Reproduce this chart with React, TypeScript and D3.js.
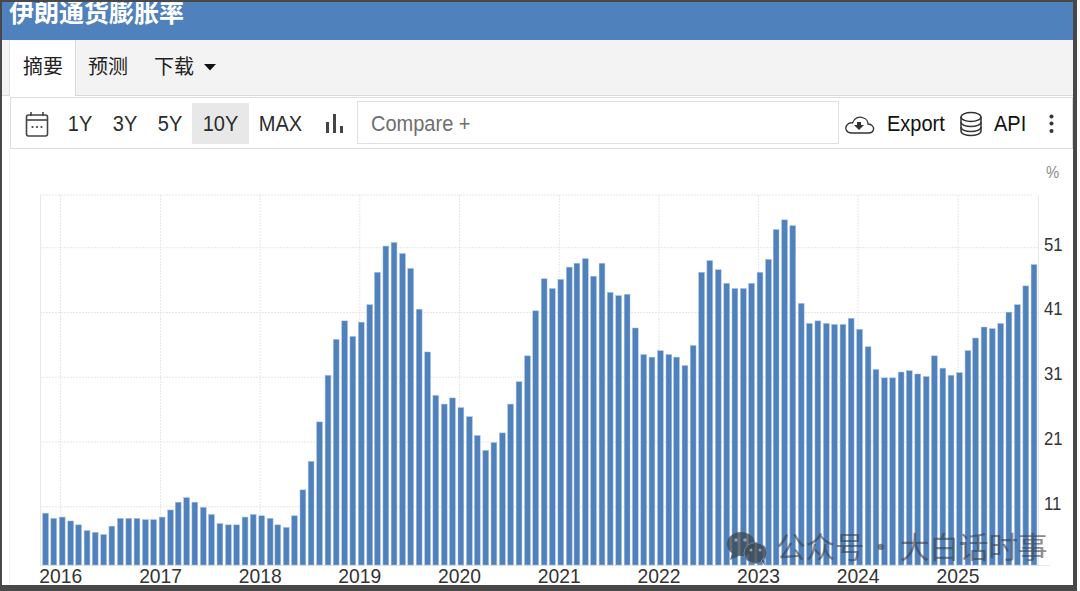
import React from "react";
import * as d3 from "d3";

const startYear = 2015;
const startMonth = 10; // Nov 2015
const inflation = [
  10.0, 9.2, 9.4, 8.8, 8.2, 7.3, 7.05, 6.7, 8.0, 9.2, 9.2, 9.2,
  9.0, 9.0, 9.4, 10.5, 11.7, 12.4, 11.7, 10.9, 9.8, 8.4, 8.2, 8.2,
  9.4, 9.8, 9.6, 9.2, 8.2, 7.8, 9.6, 13.6, 18.0, 24.1, 31.3, 36.85,
  39.7, 37.3, 39.5, 42.2, 47.2, 51.25, 51.8, 50.1, 47.8, 41.5, 34.9, 28.2,
  26.85, 27.8, 26.3, 24.9, 22.0, 19.7, 20.9, 22.4, 26.85, 30.3, 34.3, 41.25,
  46.2, 44.7, 46.1, 48.0, 48.6, 49.3, 46.6, 48.6, 44.1, 43.6, 43.8, 38.6,
  34.5, 34.1, 35.1, 34.5, 34.1, 32.8, 35.9, 47.2, 49.0, 47.6, 45.5, 44.7,
  44.7, 45.5, 47.2, 49.2, 53.8, 55.3, 54.4, 42.4, 39.3, 39.7, 39.3, 39.15,
  39.15, 40.1, 38.4, 35.7, 32.2, 30.9, 30.9, 31.8, 32.0, 31.5, 31.1, 34.3,
  32.4, 31.3, 31.7, 35.1, 37.05, 38.75, 38.5, 39.3, 41.05, 42.2, 45.1, 48.4,
];
const yearTicks = [2016, 2017, 2018, 2019, 2020, 2021, 2022, 2023, 2024, 2025];
const valueTicks = [11, 21, 31, 41, 51];
const rangeButtons = [
  { label: "1Y", cx: 80 },
  { label: "3Y", cx: 125 },
  { label: "5Y", cx: 170 },
  { label: "10Y", cx: 220.5 },
  { label: "MAX", cx: 280.5 },
];
const title = "伊朗通货膨胀率";
const watermarkA = "公众号";
const watermarkB = "大白话时事";

const BLUE = "#4f81bd";
const FRAME = "#484848";
const SANS = "'Liberation Sans', Arial, sans-serif";
const CJK = "'Noto Sans CJK SC', sans-serif";

const plot = { left: 40, right: 1038, top: 195, bottom: 565 };

// The reference is a screenshot stretched slightly taller than wide, so latin text is narrowed.
function T(props: any) {
  const { x, y, sx = 0.91, children, ...rest } = props;
  return (
    <text transform={`translate(${x},${y}) scale(${sx},1)`} {...rest}>
      {children}
    </text>
  );
}

export default function App() {
  const x = d3
    .scaleTime()
    .domain([new Date(2016, 0, 1), new Date(2025, 0, 1)])
    .range([60.7, 958]);
  const y = d3.scaleLinear().domain([2, 59.14]).range([plot.bottom, plot.top]);
  const bars = inflation.map((v, i) => ({
    date: new Date(startYear, startMonth + i, 1),
    v,
  }));
  const barW = 5.8;
  return (
    <svg
      width={1080}
      height={591}
      viewBox="0 0 1080 591"
      style={{ position: "absolute", left: 0, top: 0, background: "#fff" }}
    >
      {/* margin of the screenshot, right of the frame */}
      <rect x={1077} y={0} width={3} height={591} fill="#fcfcfc" />
      {/* header */}
      <rect x={0} y={0} width={1073} height={40} fill={BLUE} />
      <text x={9} y={22} fontFamily={CJK} fontWeight={700} fontSize={25} fill="#fff">
        {title}
      </text>
      {/* tab strip */}
      <rect x={0} y={40} width={1073} height={55} fill="#f3f3f3" />
      <line x1={0} x2={1073} y1={95.5} y2={95.5} stroke="#d9d9d9" />
      <rect x={10} y={40.5} width={65.5} height={56} fill="#fff" />
      <line x1={9.5} x2={9.5} y1={40} y2={96} stroke="#e2e2e2" />
      <line x1={75.5} x2={75.5} y1={40} y2={96} stroke="#d9d9d9" />
      <g fontFamily={CJK} fontSize={20} fill="#222">
        <text x={23} y={74}>摘要</text>
        <text x={88} y={74}>预测</text>
        <text x={154} y={74}>下载</text>
      </g>
      <path d="M204 64 L216 64 L210 70.5 Z" fill="#111" />

      {/* toolbar */}
      <rect x={10.5} y={97.5} width={1062} height={51} fill="#fff" stroke="#dcdcdc" />
      <rect x={192} y={103} width={57} height={41} fill="#e8e8e8" />
      <g fontFamily={SANS} fontSize={22} fill="#2b2b2b" textAnchor="middle">
        {rangeButtons.map((b) => (
          <T key={b.label} x={b.cx} y={131}>{b.label}</T>
        ))}
      </g>
      {/* calendar icon */}
      <g fill="none" stroke="#444" strokeWidth={1.6}>
        <rect x={26.5} y={115} width={21} height={21} rx={2} />
        <line x1={26.5} x2={47.5} y1={120} y2={120} />
        <line x1={31} x2={31} y1={112} y2={116} />
        <line x1={43} x2={43} y1={112} y2={116} />
      </g>
      <g fill="#444">
        <circle cx={32.5} cy={127} r={1.1} />
        <circle cx={37} cy={127} r={1.1} />
        <circle cx={41.5} cy={127} r={1.1} />
      </g>
      {/* bar icon */}
      <g fill="#444">
        <rect x={326} y={122} width={3} height={11} />
        <rect x={333} y={114} width={3} height={19} />
        <rect x={340} y={126} width={3} height={7} />
      </g>
      {/* compare */}
      <rect x={357.5} y={101.5} width={481} height={42} fill="#fff" stroke="#e0e0e0" />
      <T x={371} y={131} fontFamily={SANS} fontSize={22} fill="#6e6e6e">Compare +</T>
      {/* cloud */}
      <path
        d="M852 133 C846 133 844.5 128 847 125 C848.5 123 851 122.5 852.5 123 C854 118 859 116 863.5 118 C866.5 119 868 122 868 124 C872 124 874 127 873.5 129.5 C873 132 871 133 868.5 133 Z"
        fill="none"
        stroke="#333"
        strokeWidth={1.3}
      />
      <path d="M857 125 L857 122 L861 122 L861 125 L864 125 L859 130 L854 125 Z" fill="#333" />
      <T x={887} y={131} fontFamily={SANS} fontSize={22} fill="#111">Export</T>
      {/* database */}
      <g fill="none" stroke="#333" strokeWidth={1.5}>
        <ellipse cx={971} cy={117} rx={10} ry={4.5} />
        <path d="M961 117 V131 C961 137 981 137 981 131 V117" />
        <path d="M961 122 C961 128 981 128 981 122" />
        <path d="M961 127 C961 133 981 133 981 127" />
      </g>
      <T x={994} y={131} fontFamily={SANS} fontSize={22} fill="#111">API</T>
      <g fill="#333">
        <circle cx={1051.5} cy={116.5} r={2} />
        <circle cx={1051.5} cy={123.5} r={2} />
        <circle cx={1051.5} cy={131} r={2} />
      </g>

      {/* faint page rule */}
      <line x1={9.5} x2={9.5} y1={149} y2={585} stroke="#f0f0f0" />

      {/* unit */}
      <T x={1046} y={178} sx={0.87} fontFamily={SANS} fontSize={17} fill="#8a8a8a">%</T>

      {/* grid */}
      <g stroke="#e6e6e6" strokeWidth={1} strokeDasharray="2 1" fill="none">
        {valueTicks.map((t) => (
          <line key={t} x1={plot.left} x2={plot.right} y1={y(t)} y2={y(t)} />
        ))}
        <line x1={plot.left} x2={1033} y1={plot.top} y2={plot.top} />
        {yearTicks.map((yr) => {
          const px = x(new Date(yr, 0, 1));
          return <line key={yr} x1={px} x2={px} y1={plot.top} y2={plot.bottom} />;
        })}
      </g>
      <line x1={40.5} x2={40.5} y1={plot.top} y2={plot.bottom} stroke="#e8e8e8" />
      <line x1={1038.5} x2={1038.5} y1={plot.top} y2={plot.bottom} stroke="#e8e8e8" />
      <line x1={40} x2={1050} y1={565.5} y2={565.5} stroke="#e8e8e8" />

      {/* bars */}
      <g fill={BLUE} stroke="#a8bede" strokeWidth={0.5}>
        {bars.map((d, i) => {
          const px = x(d.date) + 1.5;
          return (
            <rect
              key={i}
              x={px - barW / 2}
              y={y(d.v)}
              width={barW}
              height={plot.bottom - y(d.v)}
            />
          );
        })}
      </g>

      {/* axis labels */}
      <g fontFamily={SANS} fontSize={20} fill="#333" textAnchor="middle">
        {yearTicks.map((yr) => (
          <T key={yr} x={x(new Date(yr, 0, 1))} y={583} sx={0.965}>{yr}</T>
        ))}
      </g>
      <g fontFamily={SANS} fontSize={19} fill="#333">
        {valueTicks.map((t) => (
          <T key={t} x={1044} y={y(t) + 3} sx={0.88}>{t}</T>
        ))}
      </g>

      {/* watermark */}
      <g fill="#3f4a55" opacity={0.78}>
        <ellipse cx={741} cy={544} rx={14} ry={12} />
        <path d="M732 553 L730 560 L739 556 Z" />
      </g>
      <g fill="#3f4a55" opacity={0.85} stroke="#6f8db5" strokeWidth={1}>
        <ellipse cx={755.5} cy={553} rx={11.5} ry={10.5} />
        <path d="M761 561 L765 565 L764 558 Z" />
      </g>
      <g fill="#8aa0bc">
        <circle cx={736} cy={540} r={1.8} />
        <circle cx={745} cy={540} r={1.8} />
        <circle cx={751} cy={550} r={1.5} />
        <circle cx={760} cy={550} r={1.5} />
      </g>
      <g fontFamily={CJK} fontSize={29.5} fill="#3c3c3c" opacity={0.58}>
        <text x={776} y={558}>{watermarkA}</text>
        <text x={866} y={558}>·</text>
        <text x={900} y={558}>{watermarkB}</text>
      </g>

      {/* screenshot frame */}
      <rect x={0} y={0} width={1077} height={2} fill={FRAME} />
      <rect x={0} y={0} width={2} height={591} fill={FRAME} />
      <rect x={1073} y={0} width={4} height={591} fill={FRAME} />
      <rect x={0} y={585} width={1077} height={6} fill={FRAME} />
    </svg>
  );
}
